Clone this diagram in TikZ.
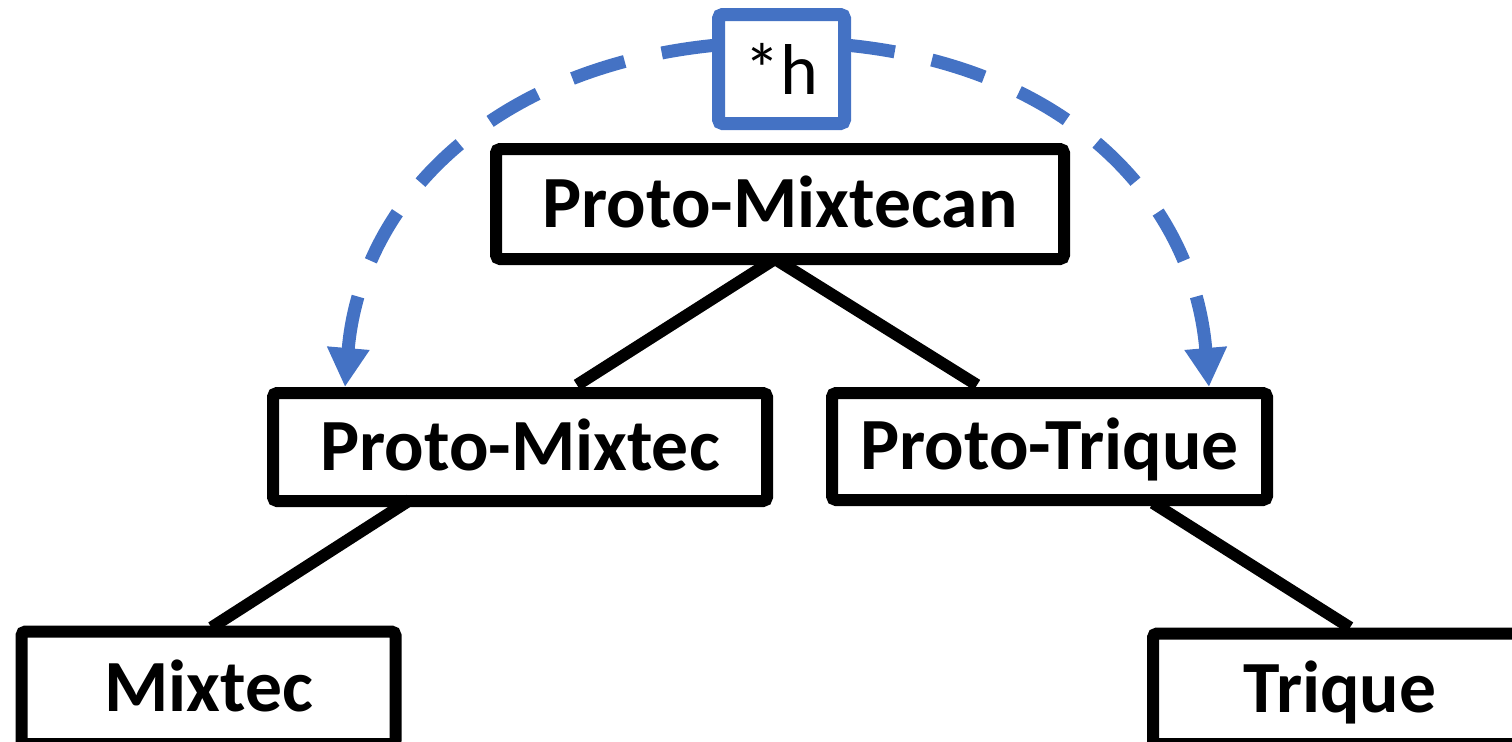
\documentclass[tikz,border=0pt]{standalone}
\usepackage{fontspec}
\setmainfont{Carlito}
\usetikzlibrary{arrows.meta,calc}
\definecolor{hblue}{HTML}{4472C4}
\begin{document}
\begin{tikzpicture}[x=0.5pt,y=-0.5pt,
  lang/.style={draw=black,line width=6pt,rounded corners=2pt,fill=white,
    font=\fontsize{36.8pt}{40pt}\selectfont\bfseries,
    text height=23.3pt,text depth=0pt,inner sep=0pt},
  branch/.style={line width=6pt,draw=black},
  hbox/.style={draw=hblue,line width=6.5pt,rounded corners=2pt,fill=white,
    font=\fontsize{36pt}{40pt}\selectfont,
    text height=25.2pt,text depth=0pt,inner sep=0pt,
    minimum width=63pt,minimum height=54.5pt},
  harrow/.style={draw=hblue,line width=6.5pt,dash pattern=on 27.5pt off 19pt,
    {Triangle[length=19.5pt,width=20pt]}-}]
\useasboundingbox (0,0) rectangle (1512,741);

\node[lang,minimum width=284pt,minimum height=55pt] (pmc) at (780,204) {Proto-Mixtecan};
\node[lang,minimum width=247pt,minimum height=54pt] (pm) at (520,447) {Proto-Mixtec};
\node[lang,minimum width=217.5pt,minimum height=53.5pt] (pt) at (1049.5,446.5) {Proto-Trique};
\node[lang,minimum width=187pt,minimum height=56.25pt] (mx) at (208.5,687.75) {Mixtec};
\node[lang,minimum width=187pt,minimum height=55.25pt] (tq) at (1340,688.75) {Trique};

\draw[branch] ($(pmc.south)+(-5,-6)$) -- ($(pm.north)+(57,-2)$);
\draw[branch] ($(pmc.south)+(-5,-6)$) -- ($(pt.north)+(-72.5,-2)$);
\draw[branch] ($(pm.south)+(-110,-7)$) -- ($(mx.north)+(3,2)$);
\draw[branch] ($(pt.south)+(103.5,-3)$) -- ($(tq.north)+(10,0)$);

\coordinate (hc) at (781.5,69);
\draw[harrow] ($(pm.north west)+(78,0)$) .. controls +(17,-201) and +(-262,0) .. ($(hc)+(0,-27)$);
\draw[harrow] ($(pt.north west)+(383,0)$) .. controls +(-17,-201) and +(262,0) .. ($(hc)+(0,-27)$);
\node[hbox] (h) at (hc) {*h};
\end{tikzpicture}
\end{document}
